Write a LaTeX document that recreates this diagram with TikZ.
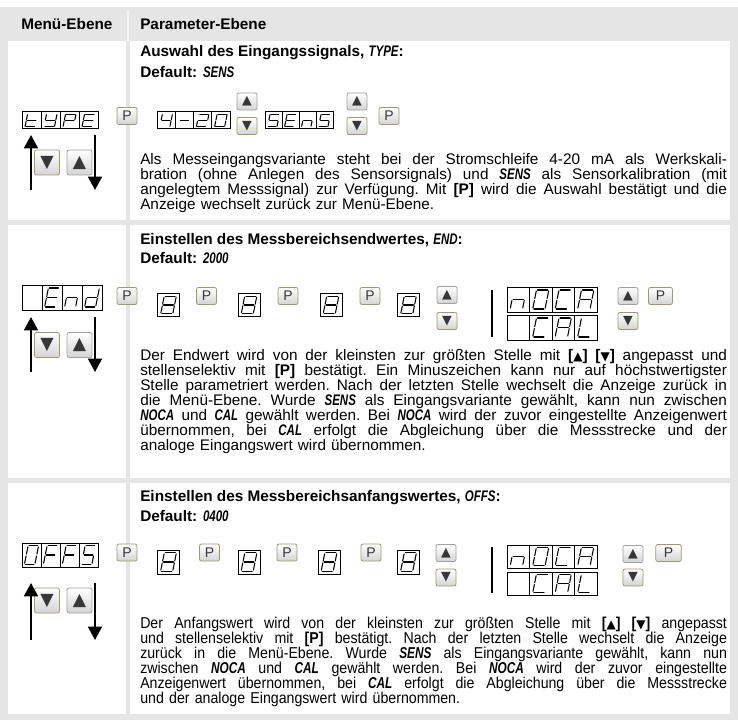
\documentclass[tikz,border=0pt]{standalone}
\usepackage{fontspec}
\setmainfont{Liberation Sans}
\newfontfamily\segfont[FakeStretch=0.75]{Liberation Sans}
\newfontfamily\narrowfont[FakeStretch=0.9]{Liberation Sans}
\newfontfamily\symfont{DejaVu Sans}
\usetikzlibrary{arrows.meta, positioning}

\definecolor{framegray}{RGB}{229,229,229}
\definecolor{btnolive}{RGB}{158,152,118}
\definecolor{btngray}{RGB}{160,160,160}
\definecolor{btnfill}{RGB}{212,212,212}
\definecolor{glyphgray}{RGB}{55,55,55}

% inline seven-segment words and key symbols
\newcommand{\segw}[1]{{\segfont\bfseries\itshape #1}}
\newcommand{\upsym}{{\symfont\fontsize{9}{10}\selectfont ▲}}
\newcommand{\dnsym}{{\symfont\fontsize{9}{10}\selectfont ▼}}

% justified text line: words spread over the full width
\makeatletter
\def\jline#1{\hbox to 440pt{\vrule height 8.5pt width 0pt\jl@word#1 \jl@stop}}
\def\jl@word#1 #2\jl@stop{#1\if\relax\detokenize{#2}\relax\else
  \hskip 0.25em plus 1fil\relax\jl@word#2\jl@stop\fi}
\makeatother
\newcommand{\lastline}[1]{\hbox{\vrule height 8.5pt width 0pt#1}}

% one segment of a seven-segment glyph (cell 20x25)
\newcommand{\drawseg}[1]{%
  \if#1a\draw[segline] (-4.5,-9.5) -- (4.5,-9.5);\fi
  \if#1b\draw[segline] (5.5,-8.5) -- (5.5,-1);\fi
  \if#1c\draw[segline] (5.5,1) -- (5.5,8.5);\fi
  \if#1d\draw[segline] (-4.5,9.5) -- (4.5,9.5);\fi
  \if#1e\draw[segline] (-5.5,1) -- (-5.5,8.5);\fi
  \if#1f\draw[segline] (-5.5,-8.5) -- (-5.5,-1);\fi
  \if#1g\draw[segline] (-4.5,0) -- (4.5,0);\fi}

% name, x, y, width, height, segments
\newcommand{\segcell}[6]{%
  \node[segbox, minimum width=#4*0.75pt, minimum height=#5*0.75pt] (#1) at ({#2},{#3}) {};
  \begin{scope}[shift={(#1.center)}, xslant=0.2, xscale=#4/20, yscale=#5/25]
    \foreach \seg in #6 {\drawseg{\seg}}
  \end{scope}}

% prefix, left x, centre y, cell width, cell height, glyphs
\newcommand{\segdisplay}[6]{%
  \foreach \glyph [count=\k] in {#6} {%
    \segcell{#1\k}{#2+(\k-0.5)*#4}{#3}{#4}{#5}{\glyph}}}

\begin{document}
\begin{tikzpicture}[x=0.75pt, y=-0.75pt,
    segbox/.style={draw=black, line width=0.75pt, fill=white, inner sep=0pt},
    segline/.style={line width=0.8pt, line cap=round},
    keybtn/.style={line width=0.6pt, rounded corners=1.5pt, top color=white, bottom color=btnfill,
      inner sep=0pt, text=glyphgray, minimum width=15pt, minimum height=12.75pt},
    pbtn/.style={keybtn, draw=btnolive, font=\fontsize{10.5}{10.5}\selectfont},
    upbtn/.style={keybtn, draw=btngray, font=\symfont\fontsize{9.5}{10}\selectfont},
    downbtn/.style={keybtn, draw=btnolive, font=\symfont\fontsize{9.5}{10}\selectfont},
    bigbtn/.style={keybtn, minimum width=18.75pt, minimum height=18.75pt, font=\symfont\fontsize{13}{13}\selectfont},
    menuarrow/.style={line width=1.2pt, -{Triangle[width=10.5pt, length=10pt]}},
    sepbar/.style={line width=2.2pt},
    headtext/.style={anchor=base west, inner sep=0pt, font=\bfseries\fontsize{11.5}{12}\selectfont},
    partext/.style={anchor=north west, inner sep=0pt, text width=440pt, font=\fontsize{11.5}{11.25}\selectfont}]

  \useasboundingbox (0,0) rectangle (738,720);
  \fill[white] (0,0) rectangle (738,720);

  % table frame and cells
  \fill[framegray] (0,7) rectangle (738,720);
  \draw[white!55!framegray, line width=1.5pt] (128,10) -- (128,41);
  \fill[white] (8,41) rectangle (126,220);
  \fill[white] (130,41) rectangle (730,220);
  \fill[white] (8,225) rectangle (126,478);
  \fill[white] (130,225) rectangle (730,478);
  \fill[white] (8,483) rectangle (126,714);
  \fill[white] (130,483) rectangle (730,714);

  % header
  \node[headtext] (menuhead) at (21,29.5) {Menü-Ebene};
  \node[headtext] (parahead) at (140,29.5) {Parameter-Ebene};

  % row 1: input signal
  \node[headtext] (title1) at (140,57) {Auswahl des Eingangssignals, \segw{TYPE}:};
  \node[headtext] (default1) at (140,78) {Default: \segw{SENS}};

  \segdisplay{type}{22}{120.5}{19}{17}{{f,e,g,d},{b,c,d,f,g},{a,b,e,f,g},{a,d,e,f,g}}
  \node[pbtn] (p11) at (127,116) {P};
  \segdisplay{range}{157}{120.5}{18.25}{17}{{b,c,f,g},{g},{a,b,d,e,g},{a,b,c,d,e,f}}
  \node[upbtn] (up11) at (247,101.5) {▲};
  \node[downbtn] (dn11) at (247,126) {▼};
  \segdisplay{sens}{265}{120.5}{17}{17}{{a,c,d,f,g},{a,d,e,f,g},{c,e,g},{a,c,d,f,g}}
  \node[upbtn] (up12) at (357,101.5) {▲};
  \node[downbtn] (dn12) at (357,126) {▼};
  \node[pbtn] (p12) at (389,116) {P};

  \node[bigbtn, draw=btnolive] (mdn1) at (47,162.5) {▼};
  \node[bigbtn, draw=btngray] (mup1) at (79.5,162.5) {▲};
  \coordinate (au1s) at (31,190);
  \coordinate (au1e) at (31,135);
  \coordinate (ad1s) at (95,135);
  \coordinate (ad1e) at (95,190);
  \draw[menuarrow] (au1s) -- (au1e);
  \draw[menuarrow] (ad1s) -- (ad1e);

  \node[partext] (text1) at (140,152.7) {%
    \jline{Als Messeingangsvariante steht bei der Stromschleife 4-20 mA als Werkskali-}
    \jline{bration (ohne Anlegen des Sensorsignals) und \segw{SENS} als Sensorkalibration (mit}
    \jline{angelegtem Messsignal) zur Verfügung. Mit \textbf{[P]} wird die Auswahl bestätigt und die}
    \lastline{Anzeige wechselt zurück zur Menü-Ebene.}};

  % row 2: end value
  \node[headtext] (title2) at (140,244) {Einstellen des Messbereichsendwertes, \segw{END}:};
  \node[headtext] (default2) at (140,263) {Default: \segw{2000}};

  \segdisplay{endv}{22}{297.5}{20}{25}{{x},{a,d,e,f,g},{c,e,g},{b,c,d,e,g}}
  \node[pbtn] (p21) at (127,296) {P};
  \segcell{dig21}{168.5}{305}{22}{23}{{a,b,c,d,e,f,g}}
  \node[pbtn] (p22) at (206.5,296) {P};
  \segcell{dig22}{249}{305}{22}{23}{{a,b,c,d,e,f,g}}
  \node[pbtn] (p23) at (288,296) {P};
  \segcell{dig23}{331}{305}{22}{23}{{a,b,c,d,e,f,g}}
  \node[pbtn] (p24) at (370,296) {P};
  \segcell{dig24}{408.5}{305}{22}{23}{{a,b,c,d,e,f,g}}
  \node[upbtn] (up21) at (447,295) {▲};
  \node[downbtn] (dn21) at (447,321) {▼};
  \draw[sepbar] (492,290) -- (492,337);
  \segdisplay{noca2}{507}{299.5}{22.5}{25}{{c,e,g},{a,b,c,d,e,f},{a,d,e,f},{a,b,c,e,f,g}}
  \segdisplay{cal2}{507}{327.5}{22.5}{25}{{x},{a,d,e,f},{a,b,c,e,f,g},{d,e,f}}
  \node[upbtn] (up22) at (628,296) {▲};
  \node[downbtn] (dn22) at (628,321) {▼};
  \node[pbtn, minimum width=18pt] (p25) at (660.5,296) {P};

  \node[bigbtn, draw=btnolive] (mdn2) at (47,345) {▼};
  \node[bigbtn, draw=btngray] (mup2) at (79.5,345) {▲};
  \coordinate (au2s) at (31,372);
  \coordinate (au2e) at (31,317);
  \coordinate (ad2s) at (95,317);
  \coordinate (ad2e) at (95,372);
  \draw[menuarrow] (au2s) -- (au2e);
  \draw[menuarrow] (ad2s) -- (ad2e);

  \node[partext] (text2) at (140,348.7) {%
    \jline{Der Endwert wird von der kleinsten zur größten Stelle mit \textbf{[\upsym]} \textbf{[\dnsym]} angepasst und}
    \jline{stellenselektiv mit \textbf{[P]} bestätigt. Ein Minuszeichen kann nur auf höchstwertigster}
    \jline{Stelle parametriert werden. Nach der letzten Stelle wechselt die Anzeige zurück in}
    \jline{die Menü-Ebene. Wurde \segw{SENS} als Eingangsvariante gewählt, kann nun zwischen}
    \jline{\segw{NOCA} und \segw{CAL} gewählt werden. Bei \segw{NOCA} wird der zuvor eingestellte Anzeigenwert}
    \jline{übernommen, bei \segw{CAL} erfolgt die Abgleichung über die Messstrecke und der}
    \lastline{analoge Eingangswert wird übernommen.}};

  % row 3: offset value
  \node[headtext] (title3) at (140,501) {Einstellen des Messbereichsanfangswertes, \segw{OFFS}:};
  \node[headtext] (default3) at (140,521) {Default: \segw{0400}};

  \segdisplay{offs}{22}{555}{19}{24}{{a,b,c,d,e,f},{a,e,f,g},{a,e,f,g},{a,c,d,f,g}}
  \node[pbtn] (p31) at (127,552.5) {P};
  \segcell{dig31}{168.5}{562}{22}{24}{{a,b,c,d,e,f,g}}
  \node[pbtn] (p32) at (209.5,552.5) {P};
  \segcell{dig32}{249}{562}{22}{24}{{a,b,c,d,e,f,g}}
  \node[pbtn] (p33) at (287,552.5) {P};
  \segcell{dig33}{329}{562}{22}{24}{{a,b,c,d,e,f,g}}
  \node[pbtn] (p34) at (371,552.5) {P};
  \segcell{dig34}{408.5}{562}{22}{24}{{a,b,c,d,e,f,g}}
  \node[upbtn] (up31) at (446,553) {▲};
  \node[downbtn] (dn31) at (446,577.5) {▼};
  \draw[sepbar] (492,547) -- (492,593);
  \segdisplay{noca3}{507}{556.5}{22.5}{23}{{c,e,g},{a,b,c,d,e,f},{a,d,e,f},{a,b,c,e,f,g}}
  \segdisplay{cal3}{507}{583.5}{22.5}{23}{{x},{a,d,e,f},{a,b,c,e,f,g},{d,e,f}}
  \node[upbtn] (up32) at (633,554) {▲};
  \node[downbtn] (dn32) at (633,577.5) {▼};
  \node[pbtn, minimum width=19pt] (p35) at (668.5,553) {P};

  \node[bigbtn, draw=btnolive] (mdn3) at (47,600.5) {▼};
  \node[bigbtn, draw=btngray] (mup3) at (79.5,600.5) {▲};
  \coordinate (au3s) at (31,640);
  \coordinate (au3e) at (31,583);
  \coordinate (ad3s) at (95,583);
  \coordinate (ad3e) at (95,640);
  \draw[menuarrow] (au3s) -- (au3e);
  \draw[menuarrow] (ad3s) -- (ad3e);

  \node[partext, font=\narrowfont\fontsize{11.8}{11.25}\selectfont] (text3) at (140,616.7) {%
    \jline{Der Anfangswert wird von der kleinsten zur größten Stelle mit \textbf{[\upsym]} \textbf{[\dnsym]} angepasst}
    \jline{und stellenselektiv mit \textbf{[P]} bestätigt. Nach der letzten Stelle wechselt die Anzeige}
    \jline{zurück in die Menü-Ebene. Wurde \segw{SENS} als Eingangsvariante gewählt, kann nun}
    \jline{zwischen \segw{NOCA} und \segw{CAL} gewählt werden. Bei \segw{NOCA} wird der zuvor eingestellte}
    \jline{Anzeigenwert übernommen, bei \segw{CAL} erfolgt die Abgleichung über die Messstrecke}
    \lastline{und der analoge Eingangswert wird übernommen.}};
\end{tikzpicture}
\end{document}
